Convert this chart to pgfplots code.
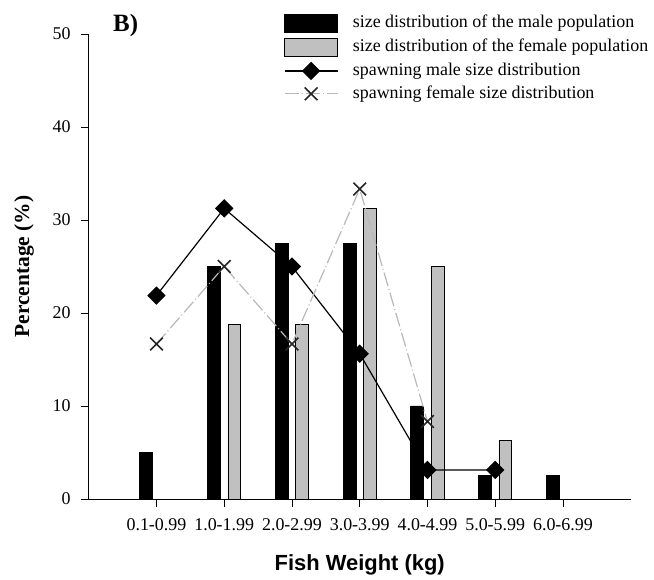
\documentclass[border=0pt]{standalone}
\usepackage{fontspec}
\setmainfont{Liberation Serif}
\newfontfamily\arialfont{Liberation Sans}
\usepackage{pgfplots}
\pgfplotsset{compat=1.18}

\definecolor{femalegray}{HTML}{C0C0C0}
\definecolor{spawnfline}{HTML}{B8B8B8}
\definecolor{spawnfmark}{HTML}{262626}

\pgfplotsset{
  barlegend/.style={legend image code/.code={%
    \draw[##1] (0bp,-8.75bp) rectangle (53bp,8.75bp);}},
  linelegend/.style={legend image code/.code={%
    \draw[mark repeat=2, mark phase=2, ##1]
      plot coordinates {(0bp,0bp) (26.5bp,0bp) (53bp,0bp)};}},
}

\begin{document}
\begin{tikzpicture}
% page frame, relative to the lower left corner of the axis
\path[use as bounding box] (-88.7bp,-81bp) rectangle (565.3bp,499bp);
\begin{axis}[
  width=542bp, height=465bp, scale only axis,
  xmin=-1, xmax=7, ymin=0, ymax=50,
  axis x line=bottom, axis y line=left,
  axis line style={-, line width=0.9bp, black},
  tick align=outside, major tick length=7.5bp,
  tick style={line width=0.9bp, black},
  xtick={0,...,6},
  xticklabels={0.1-0.99,1.0-1.99,2.0-2.99,3.0-3.99,4.0-4.99,5.0-5.99,6.0-6.99},
  ytick={0,10,...,50},
  /pgf/number format/assume math mode=true,
  tick label style={font=\fontsize{18}{20}\selectfont},
  yticklabel style={inner sep=0pt, xshift=-10.5bp},
  xticklabel style={inner sep=0pt, yshift=-12bp},
  xlabel={\arialfont\bfseries Fish Weight (kg)},
  ylabel={\bfseries Percentage (\%)},
  every axis x label/.style={at={(axis description cs:0.5,-0.1548)}, anchor=base,
    font=\fontsize{22}{24}\selectfont},
  every axis y label/.style={at={(axis description cs:-0.1194,0.5)}, anchor=center,
    rotate=90, font=\fontsize{21.5}{24}\selectfont},
  clip=false,
  legend cell align=left,
  legend style={at={(rel axis cs:0.3603,1.043)}, anchor=north west,
    draw=none, fill=none, inner sep=0pt, outer sep=0pt,
    row sep=5.9bp, column sep=14.7bp,
    nodes={inner sep=0pt, text height=13bp, text depth=4bp,
      font=\fontsize{18}{20}\selectfont}},
]
% population size distributions (bars)
\addplot[ybar, bar width=0.19, bar shift=-0.15, fill=black, draw=black,
  line width=0.8bp, barlegend]
  coordinates {(0,5) (1,25) (2,27.5) (3,27.5) (4,10) (5,2.5) (6,2.5)};
\addlegendentry{size distribution of the male population}
\addplot[ybar, bar width=0.19, bar shift=0.15, fill=femalegray, draw=black,
  line width=0.8bp, barlegend]
  coordinates {(1,18.75) (2,18.75) (3,31.25) (4,25) (5,6.25)};
\addlegendentry{size distribution of the female population}
% spawning size distributions (lines)
\addplot[sharp plot, black, line width=1.2bp, mark=square*,
  mark options={rotate=45, solid, fill=black}, mark size=5.9bp, linelegend]
  coordinates {(0,21.875) (1,31.25) (2,25) (3,15.625) (4,3.125) (5,3.125)};
\addlegendentry{spawning male size distribution}
\addplot[sharp plot, spawnfline, line width=1.2bp,
  dash pattern=on 14bp off 3bp on 1bp off 3bp,
  mark=x, mark size=9bp, mark options={solid, draw=spawnfmark, line width=1.6bp},
  linelegend]
  coordinates {(0,16.67) (1,25) (2,16.67) (3,33.33) (4,8.33)};
\addlegendentry{spawning female size distribution}
\end{axis}
\node[anchor=base west, inner sep=0pt, font=\bfseries\fontsize{25}{25}\selectfont]
  at (24.3bp,467bp) {B)};
\end{tikzpicture}
\end{document}
